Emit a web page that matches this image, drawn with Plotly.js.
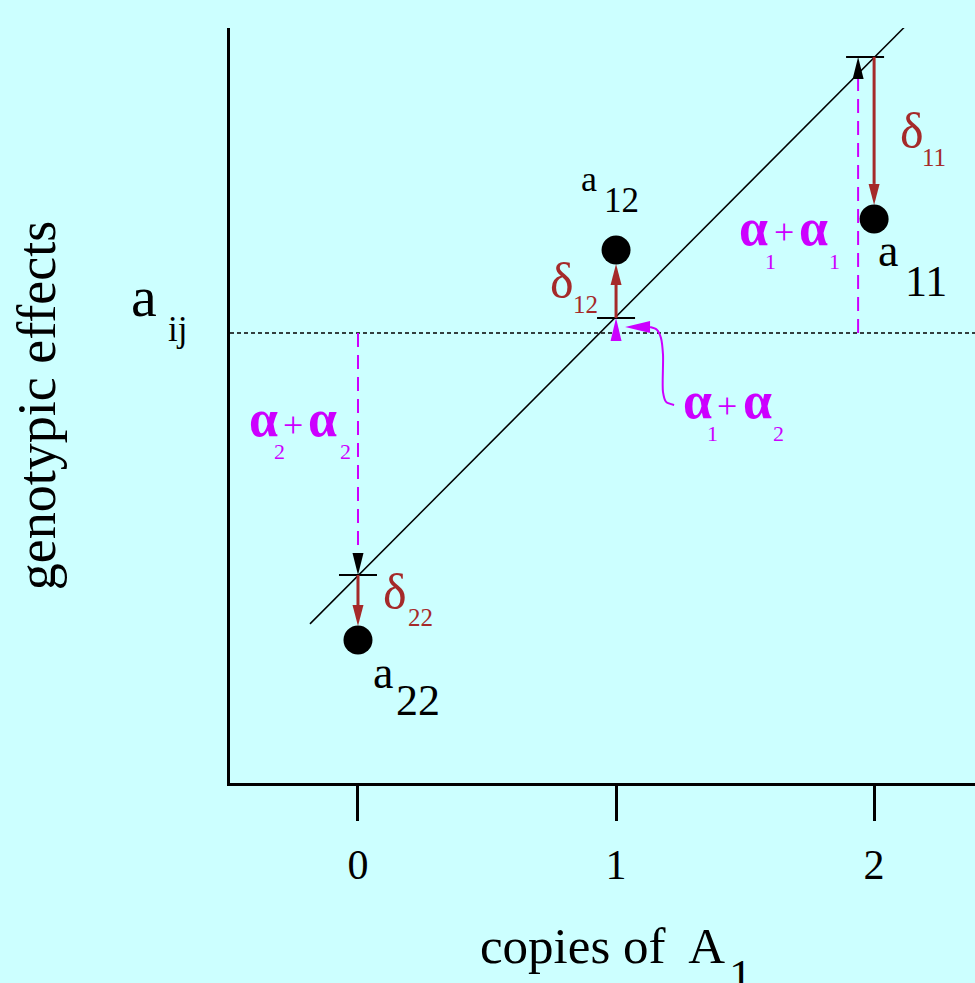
<!DOCTYPE html>
<html><head><meta charset="utf-8">
<script src="https://cdn.plot.ly/plotly-3.0.1.min.js"></script>
<style>html,body{margin:0;padding:0;background:#ccffff;}</style>
</head><body><div id="chart" style="width:975px;height:983px;"></div>
<script>
// ---- data ----
const copiesA1 = [0, 1, 2];
const tickLabels = ['0', '1', '2'];
const genotypes = ['22', '12', '11'];
const genotypicValues = [-1.19, 0.322, 0.442];   // a22, a12, a11
const additiveValues = [-0.938, 0.058, 1.07];    // alpha sums (values on the line)
const meanValue = 0;
const lineExtent = [-0.186, 2.178];
const curveX = [1.225, 1.194, 1.182, 1.182, 1.174, 1.159, 1.132];
const curveY = [-0.279, -0.267, -0.229, -0.085, -0.019, 0.012, 0.023];
const curveTip = [1.035, 0.023];

// ---- layout constants ----
const W = 975, H = 983;
const M = {l: 230, r: 0, t: 28, b: 200};
const XR = [-0.496, 2.391], YR = [-1.744, 1.182];
const kx = (W - M.l - M.r) / (XR[1] - XR[0]);
const ky = (H - M.t - M.b) / (YR[1] - YR[0]);
const BROWN = '#a52a2a', MAG = '#cc00ff', FONT = 'Liberation Serif, Times New Roman, serif';
const dashOffset = [0, 0, -0.062];
const tickOffset = [0, 0, -0.035];
const dotR = 14;

function head(xt, yt, dx, dy, len, half, color) {
  const bx = xt - dx * len / kx, by = yt - dy * len / ky;
  const px = -dy * half / kx, py = dx * half / ky;
  return {x: [xt, bx + px, bx - px, xt], y: [yt, by + py, by - py, yt], type: 'scatter',
    mode: 'lines', fill: 'toself', fillcolor: color, line: {width: 0, color: color},
    hoverinfo: 'skip', showlegend: false};
}

// least-squares line through additive values
const mx = copiesA1.reduce((a, b) => a + b, 0) / 3;
const my = additiveValues.reduce((a, b) => a + b, 0) / 3;
let sxy = 0, sxx = 0;
copiesA1.forEach((x, i) => { sxy += (x - mx) * (additiveValues[i] - my); sxx += (x - mx) * (x - mx); });
const slope = sxy / sxx, icpt = my - slope * mx;

const traces = [];
traces.push({x: XR, y: [meanValue, meanValue], type: 'scatter', mode: 'lines',
  line: {color: 'black', width: 1.5, dash: '4px,3px'}, hoverinfo: 'skip', showlegend: false});
traces.push({x: lineExtent, y: lineExtent.map(x => icpt + slope * x), type: 'scatter', mode: 'lines',
  line: {color: 'black', width: 1.5}, hoverinfo: 'skip', showlegend: false});
const tx = [], ty = [];
copiesA1.forEach((x, i) => {
  const c = x + tickOffset[i];
  tx.push(c - 19 / kx, c + 19 / kx, null);
  ty.push(additiveValues[i], additiveValues[i], null);
});
traces.push({x: tx, y: ty, type: 'scatter', mode: 'lines', line: {color: 'black', width: 2},
  hoverinfo: 'skip', showlegend: false, connectgaps: false});
[0, 2].forEach(i => {
  const x = copiesA1[i] + dashOffset[i];
  const dir = additiveValues[i] > meanValue ? 1 : -1;
  const hl = 22;
  traces.push({x: [x, x], y: [meanValue, additiveValues[i] - dir * hl / ky], type: 'scatter', mode: 'lines',
    line: {color: MAG, width: 2, dash: '14px,8px'}, hoverinfo: 'skip', showlegend: false});
  traces.push(head(x, additiveValues[i], 0, dir, hl, 5.5, 'black'));
});
traces.push(head(copiesA1[1], additiveValues[1], 0, 1, 23, 5.5, MAG));
copiesA1.forEach((x, i) => {
  const dir = genotypicValues[i] > additiveValues[i] ? 1 : -1;
  const tipY = genotypicValues[i] - dir * dotR / ky;
  const hl = 21;
  traces.push({x: [x, x], y: [additiveValues[i], tipY - dir * hl / ky], type: 'scatter', mode: 'lines',
    line: {color: BROWN, width: 3}, hoverinfo: 'skip', showlegend: false});
  traces.push(head(x, tipY, 0, dir, hl, 5.5, BROWN));
});
traces.push({x: curveX, y: curveY, type: 'scatter', mode: 'lines',
  line: {color: MAG, width: 2, shape: 'spline', smoothing: 0.8}, hoverinfo: 'skip', showlegend: false});
traces.push(head(curveTip[0], curveTip[1], -1, 0, 25, 6, MAG));
traces.push({x: copiesA1, y: genotypicValues, type: 'scatter', mode: 'markers',
  marker: {color: 'black', size: 29, line: {width: 0}}, hoverinfo: 'skip', showlegend: false});

// ---- text pieces: [text, x, y, size, color, xref, yref] ----
const A = '<b>α</b>';
const pieces = [
  ['a', 0.895, 0.597, 36, 'black'], ['12', 1.023, 0.512, 35, 'black'],
  ['a', 2.054, 0.318, 46, 'black'], ['11', 2.202, 0.198, 44, 'black'],
  ['a', 0.097, -1.314, 46, 'black'], ['22', 0.233, -1.426, 44, 'black'],
  ['a', -0.115, 0.140, 58, 'black', 'paper'], ['ij', -0.071, 0.014, 35, 'black', 'paper'],
  ['δ', 0.791, 0.202, 50, BROWN], ['12', 0.880, 0.112, 25, BROWN],
  ['δ', 2.147, 0.783, 50, BROWN], ['11', 2.233, 0.682, 25, BROWN],
  ['δ', 0.143, -1.004, 50, BROWN], ['22', 0.244, -1.101, 25, BROWN],
  [A, 1.531, 0.410, 52, MAG], ['1', 1.600, 0.278, 22, MAG], ['+', 1.651, 0.393, 36, MAG],
  [A, 1.767, 0.410, 52, MAG], ['1', 1.848, 0.278, 22, MAG],
  [A, -0.368, -0.330, 52, MAG], ['2', -0.303, -0.458, 22, MAG], ['+', -0.252, -0.355, 36, MAG],
  [A, -0.136, -0.330, 52, MAG], ['2', -0.047, -0.458, 22, MAG],
  [A, 1.314, -0.261, 52, MAG], ['1', 1.375, -0.389, 22, MAG], ['+', 1.430, -0.281, 36, MAG],
  [A, 1.550, -0.261, 52, MAG], ['2', 1.631, -0.389, 22, MAG],
  ['1', 1.481, -0.256, 46, 'black', 'x', 'paper']
];
const annotations = pieces.map(p => ({text: p[0], x: p[1], y: p[2], xref: p[5] || 'x', yref: p[6] || 'y',
  showarrow: false, xanchor: 'center', yanchor: 'middle', font: {family: FONT, size: p[3], color: p[4]}}));

const layout = {
  width: W, height: H, margin: M,
  paper_bgcolor: '#ccffff', plot_bgcolor: '#ccffff',
  showlegend: false,
  font: {family: FONT, color: 'black'},
  xaxis: {range: XR, tickvals: copiesA1, ticktext: tickLabels, ticks: 'outside', ticklen: 35,
    tickwidth: 3, tickcolor: 'black', showline: true, linewidth: 3, linecolor: 'black',
    showgrid: false, zeroline: false, tickfont: {family: FONT, size: 42, color: 'black'},
    ticklabelstandoff: 8, fixedrange: true,
    title: {text: 'copies of  A', font: {family: FONT, size: 51, color: 'black'}, standoff: 40}},
  yaxis: {range: YR, showticklabels: false, ticks: '', showline: true, linewidth: 3, linecolor: 'black',
    showgrid: false, zeroline: false, fixedrange: true,
    title: {text: 'genotypic effects', font: {family: FONT, size: 54, color: 'black'}, standoff: 155}},
  annotations: annotations
};
Plotly.newPlot('chart', traces, layout, {displayModeBar: false, staticPlot: true});
</script></body></html>
